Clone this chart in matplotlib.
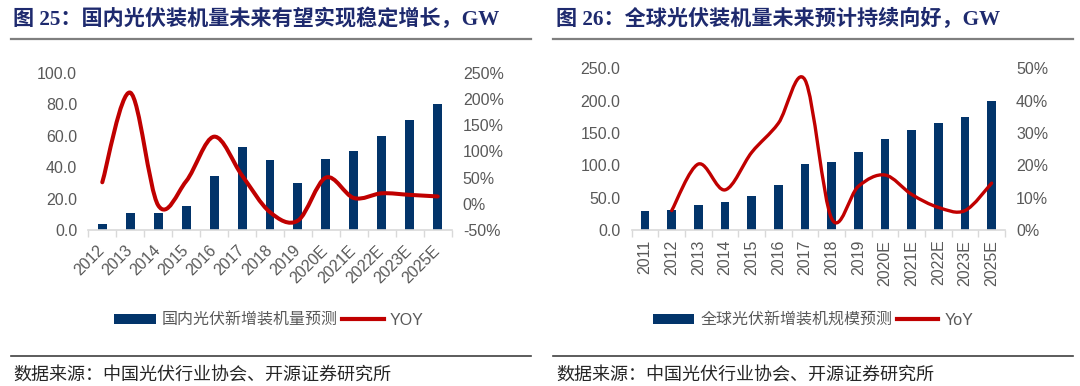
import matplotlib
matplotlib.use("Agg")
import matplotlib.pyplot as plt
from matplotlib.path import Path
from matplotlib.patches import PathPatch
from matplotlib.lines import Line2D
from matplotlib.patches import Patch
import numpy as np

# ---------------- data ----------------
cn_years = ["2012", "2013", "2014", "2015", "2016", "2017", "2018", "2019",
            "2020E", "2021E", "2022E", "2023E", "2025E"]
cn_installed = [3.5, 10.9, 10.6, 15.1, 34.5, 53.0, 44.3, 30.1, 45, 50, 60, 70, 80]
cn_yoy = [41, 212, -3, 43, 128, 54, -16, -32, 50, 11, 20, 17, 14]

gl_years = ["2011", "2012", "2013", "2014", "2015", "2016", "2017", "2018",
            "2019", "2020E", "2021E", "2022E", "2023E", "2025E"]
gl_installed = [30, 31, 38, 43, 53, 70, 102, 105, 120, 140, 155, 165, 175, 200]
gl_yoy_years = gl_years[1:]
gl_yoy = [6, 20.4, 12.4, 24, 33, 46.4, 3.5, 13.5, 17, 11, 7, 6, 14.5]

title_left = "图 25：国内光伏装机量未来有望实现稳定增长，GW"
title_right = "图 26：全球光伏装机量未来预计持续向好，GW"
legend_left = ["国内光伏新增装机量预测", "YOY"]
legend_right = ["全球光伏新增装机规模预测", "YoY"]
source_text = "数据来源：中国光伏行业协会、开源证券研究所"

# ---------------- style ----------------
BAR = "#02346a"
RED = "#c00000"
GRAY = "#595959"
AXC = "#d9d9d9"
TITLE_C = "#1e2a6e"
LAT = ["Liberation Sans", "Noto Sans CJK SC"]
CJK = ["Noto Sans CJK SC", "DejaVu Sans"]
TFONT = ["Liberation Serif", "Noto Sans CJK SC"]

W, H = 1080, 386
fig = plt.figure(figsize=(W / 100, H / 100), dpi=100)


def fx(px):
    return px / W


def fy(py):
    return 1 - py / H


def smooth_path(xs, ys):
    xs = np.asarray(xs, float)
    ys = np.asarray(ys, float)
    pts = np.column_stack([xs, ys])
    n = len(pts)
    verts = [pts[0]]
    codes = [Path.MOVETO]
    for i in range(n - 1):
        p0 = pts[i - 1] if i > 0 else pts[i]
        p1 = pts[i]
        p2 = pts[i + 1]
        p3 = pts[i + 2] if i + 2 < n else pts[i + 1]
        c1 = p1 + (p2 - p0) / 6.0
        c2 = p2 - (p3 - p1) / 6.0
        verts += [c1, c2, p2]
        codes += [Path.CURVE4] * 3
    return Path(verts, codes)


def panel(rect, cats, bars, yoy_x, yoy, ylim, yticks, yfmt, y2lim, y2ticks,
          rot, lw, xpad):
    ax = fig.add_axes(rect)
    x = np.arange(len(cats))
    ax.bar(x, bars, width=0.32, color=BAR, zorder=2)
    ax.set_xlim(-0.5, len(cats) - 0.5)
    ax.set_ylim(*ylim)
    ax.set_yticks(yticks)
    ax.set_yticklabels([yfmt.format(v) for v in yticks], family=LAT,
                       fontsize=11.5, color=GRAY)
    ax.tick_params(axis="y", length=0, pad=8)
    ax.set_xticks(x)
    if rot == 45:
        ax.set_xticklabels(cats, rotation=45, ha="right", va="center",
                           rotation_mode="anchor", family=LAT, fontsize=11.5,
                           color=GRAY)
    else:
        ax.set_xticklabels(cats, rotation=90, ha="center", va="top",
                           family=LAT, fontsize=11.5, color=GRAY)
    ax.tick_params(axis="x", which="major", length=0, pad=xpad)
    ax.set_xticks(np.arange(len(cats) + 1) - 0.5, minor=True)
    ax.tick_params(axis="x", which="minor", length=5, width=1, color=AXC)
    for s in ["top", "right", "left"]:
        ax.spines[s].set_visible(False)
    ax.spines["bottom"].set_color(AXC)
    ax.spines["bottom"].set_linewidth(1.2)
    ax.patch.set_alpha(0)

    ax2 = ax.twinx()
    ax2.set_ylim(*y2lim)
    ax2.set_yticks(y2ticks)
    ax2.set_yticklabels([f"{v:d}%" for v in y2ticks], family=LAT,
                        fontsize=11.5, color=GRAY)
    ax2.tick_params(axis="y", length=0, pad=8)
    for s in ax2.spines.values():
        s.set_visible(False)
    xi = [cats.index(c) for c in yoy_x]
    path = smooth_path(xi, yoy)
    ax2.add_patch(PathPatch(path, facecolor="none", edgecolor=RED, lw=lw,
                            capstyle="round", joinstyle="round", zorder=3))
    return ax, ax2


axL, axL2 = panel([fx(88.3), fy(230), fx(451.7 - 88.3), (230 - 72.7) / H],
                  cn_years, cn_installed, cn_years, cn_yoy,
                  (0, 100), [0, 20, 40, 60, 80, 100], "{:.1f}",
                  (-50, 250), [-50, 0, 50, 100, 150, 200, 250], 45, 2.9, 13)

axR, axR2 = panel([fx(631.7), fy(230), fx(1005 - 631.7), (230 - 68.3) / H],
                  gl_years, gl_installed, gl_yoy_years, gl_yoy,
                  (0, 250), [0, 50, 100, 150, 200, 250], "{:.1f}",
                  (0, 50), [0, 10, 20, 30, 40, 50], 90, 2.4, 7)

# legends
for ax, labels, cx in [(axL, legend_left, 269), (axR, legend_right, 813)]:
    handles = [Patch(facecolor=BAR, edgecolor="none"),
               Line2D([0], [0], color=RED, lw=3)]
    fig.legend(handles, labels, loc="center", bbox_to_anchor=(fx(cx), fy(320)),
               ncol=2, frameon=False, prop={"family": LAT, "size": 11.5},
               labelcolor=GRAY, handlelength=2.6, handleheight=0.65,
               handletextpad=0.4, columnspacing=0.25, borderpad=0)

# titles, rules, sources
for x0, title in [(13, title_left), (556, title_right)]:
    fig.text(fx(x0), fy(19), title, family=TFONT, fontweight="bold",
             fontsize=15.2, color=TITLE_C, ha="left", va="center")
    fig.text(fx(x0), fy(375), source_text, family=CJK, fontsize=13,
             color="#262626", ha="left", va="center")
for x0, x1 in [(11, 531), (553, 1073)]:
    fig.add_artist(Line2D([fx(x0), fx(x1)], [fy(38.5), fy(38.5)],
                          color="#7f7f7f", lw=1.6))
    fig.add_artist(Line2D([fx(x0), fx(x1)], [fy(356), fy(356)],
                          color="#404040", lw=1.2))

fig.savefig("out.png", dpi=100)
